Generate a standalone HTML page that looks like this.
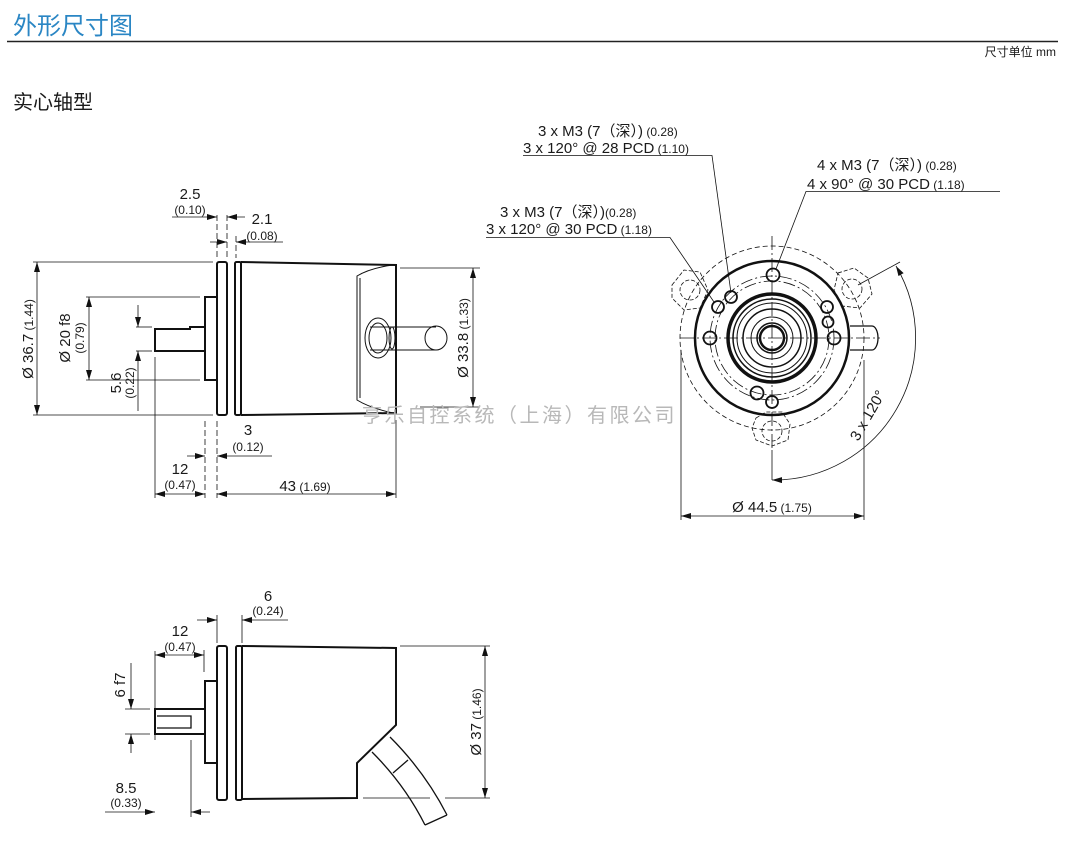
<!DOCTYPE html>
<html><head><meta charset="utf-8"><style>
body{margin:0;background:#fff;width:1068px;height:855px;overflow:hidden}
svg{display:block}
text{font-family:"Liberation Sans","Noto Sans CJK SC",sans-serif;fill:#1a1a1a}
.s{font-size:12px}.n{font-size:15px}
</style></head><body>
<svg width="1068" height="855" viewBox="0 0 1068 855" xmlns="http://www.w3.org/2000/svg">
<defs>
<marker id="a" viewBox="0 0 10 6" refX="10" refY="3" markerWidth="10" markerHeight="6" orient="auto-start-reverse" markerUnits="userSpaceOnUse"><path d="M0,0L10,3L0,6z" fill="#111"/></marker>
</defs>
<text x="13" y="34" style="font-size:24px;fill:#2a86c4">外形尺寸图</text>
<line x1="7" y1="41.5" x2="1058" y2="41.5" stroke="#222" stroke-width="1.5"/>
<text x="1056" y="56" text-anchor="end" style="font-size:12px">尺寸单位 mm</text>
<text x="13" y="109" style="font-size:20px">实心轴型</text>

<g stroke="#111" fill="none" stroke-width="1">
<!-- side view 1 -->
<rect x="217" y="262" width="10" height="153" rx="2" stroke-width="2"/>
<rect x="235" y="262" width="6" height="153" rx="1.5" stroke-width="2"/>
<path d="M241 262 L396 265 L396 413 L241 415" stroke-width="2"/>
<path d="M393 265 Q370 268 357 276 L357 400 Q370 408 393 413"/>
<path d="M360 278 L360 398"/>
<rect x="205" y="297" width="12" height="83" stroke-width="2"/>
<path d="M205 327 L190 327 L190 329 L155 329 L155 351 L205 351" stroke-width="2"/>
<ellipse cx="378" cy="338" rx="13" ry="20"/>
<ellipse cx="378" cy="338" rx="9" ry="15"/>
<path d="M370 327 L436 327 M370 350 L436 350"/>
<ellipse cx="392" cy="338" rx="3" ry="11"/>
<ellipse cx="436" cy="338" rx="11" ry="12"/>
<!-- dims side 1 -->
<line x1="33" y1="262" x2="213" y2="262" stroke-width=".8"/>
<line x1="33" y1="415" x2="213" y2="415" stroke-width=".8"/>
<line x1="37" y1="262" x2="37" y2="415" marker-start="url(#a)" marker-end="url(#a)" stroke-width=".8"/>
<line x1="86" y1="297" x2="200" y2="297" stroke-width=".8"/>
<line x1="86" y1="380" x2="200" y2="380" stroke-width=".8"/>
<line x1="89" y1="297" x2="89" y2="380" marker-start="url(#a)" marker-end="url(#a)" stroke-width=".8"/>
<line x1="136" y1="327" x2="152" y2="327" stroke-width=".8"/>
<line x1="136" y1="351" x2="152" y2="351" stroke-width=".8"/>
<line x1="138" y1="305" x2="138" y2="327" marker-end="url(#a)" stroke-width=".8"/>
<line x1="138" y1="411" x2="138" y2="351" marker-end="url(#a)" stroke-width=".8"/>
<path d="M217 215V258 M227 215V258 M236 236V258 M205 421V498 M217 421V498" stroke-dasharray="6 3" stroke-width=".8"/>
<line x1="155" y1="357" x2="155" y2="498" stroke-width=".8"/>
<line x1="396" y1="420" x2="396" y2="498" stroke-width=".8"/>
<line x1="172" y1="217" x2="217" y2="217" marker-end="url(#a)" stroke-width=".8"/>
<line x1="245" y1="217" x2="227" y2="217" marker-end="url(#a)" stroke-width=".8"/>
<line x1="210" y1="242" x2="227" y2="242" marker-end="url(#a)" stroke-width=".8"/>
<line x1="283" y1="242" x2="236" y2="242" marker-end="url(#a)" stroke-width=".8"/>
<line x1="187" y1="456" x2="205" y2="456" marker-end="url(#a)" stroke-width=".8"/>
<line x1="272" y1="456" x2="217" y2="456" marker-end="url(#a)" stroke-width=".8"/>
<line x1="155" y1="494" x2="205" y2="494" marker-start="url(#a)" marker-end="url(#a)" stroke-width=".8"/>
<line x1="217" y1="494" x2="396" y2="494" marker-start="url(#a)" marker-end="url(#a)" stroke-width=".8"/>
<line x1="400" y1="268" x2="480" y2="268" stroke-width=".8"/>
<line x1="420" y1="407" x2="480" y2="407" stroke-width=".8"/>
<line x1="473" y1="268" x2="473" y2="407" marker-start="url(#a)" marker-end="url(#a)" stroke-width=".8"/>

<!-- front view -->
<g stroke-width=".8">
<circle cx="772" cy="338" r="92" stroke-dasharray="5 3"/>
<path d="M772 236V450 M680 338H880" stroke-dasharray="14 3 2 3"/>
<circle cx="772" cy="338" r="62" stroke-dasharray="12 3 2 3"/>
<circle cx="772" cy="338" r="57" stroke-dasharray="12 3 2 3"/>
<path d="M672 285 L684 270 L700 272 L708 290 L700 308 L684 310 L672 298 Z" stroke-dasharray="4 2"/>
<circle cx="690" cy="290" r="10" stroke-dasharray="4 2"/>
<path d="M838 273 L854 268 L868 278 L872 294 L860 308 L842 306 L834 290 Z" stroke-dasharray="4 2"/>
<circle cx="852" cy="289" r="10" stroke-dasharray="4 2"/>
<path d="M756 418 L766 412 L782 412 L790 424 L788 440 L772 446 L756 440 L752 428 Z" stroke-dasharray="4 2"/>
<circle cx="772" cy="431" r="10" stroke-dasharray="4 2"/>
</g>
<circle cx="772" cy="338" r="77" stroke-width="2.5"/>
<circle cx="772" cy="338" r="44" stroke-width="3.5"/>
<circle cx="772" cy="338" r="39" stroke-width="1.5"/>
<circle cx="772" cy="338" r="35"/>
<circle cx="772" cy="338" r="29" stroke-width="1.5"/>
<circle cx="772" cy="338" r="21"/>
<circle cx="772" cy="338" r="15" stroke-width="1.5"/>
<circle cx="772" cy="338" r="12" stroke-width="2.5"/>
<g stroke-width="1.8">
<circle cx="773" cy="275" r="6.5"/><circle cx="710" cy="338" r="6.5"/>
<circle cx="834" cy="338" r="6.5"/><circle cx="827" cy="307" r="6"/><circle cx="828" cy="322" r="5.5"/>
<circle cx="718" cy="307" r="6"/><circle cx="731" cy="297" r="6"/>
<circle cx="757" cy="393" r="6.5"/><circle cx="772" cy="402" r="6"/>
</g>
<path d="M850 326 H872 A6 12 0 0 1 872 350 H850" stroke-width="1.3"/>
<path d="M681 350V520 M864 360V520 M772 450V480" stroke-width=".8"/>
<line x1="681" y1="516" x2="864" y2="516" marker-start="url(#a)" marker-end="url(#a)" stroke-width=".8"/>
<line x1="858" y1="285" x2="900" y2="262" stroke-width=".8"/>
<path d="M896 266 A142 142 0 0 1 772 480" stroke-width=".8" marker-start="url(#a)" marker-end="url(#a)"/>
<!-- leaders -->
<path d="M523 155.5H712L731 293" stroke-width=".8"/>
<path d="M1000 191.5H806L776 269" stroke-width=".8"/>
<path d="M486 237.5H670L714 302" stroke-width=".8"/>

<!-- side view 2 -->
<rect x="217" y="646" width="10" height="154" rx="2" stroke-width="2"/>
<rect x="236" y="646" width="6" height="154" rx="1.5" stroke-width="2"/>
<path d="M242 646 L396 648 L396 725 L357 763 L357 798 L242 799" stroke-width="2"/>
<rect x="205" y="681" width="12" height="82" stroke-width="2"/>
<path d="M205 709 H155 V734 H205" stroke-width="2"/>
<path d="M157 716 H191 V728 H157" stroke-width="1.3"/>
<path d="M372 752 Q405 785 425 825 M390 737 Q425 772 447 815 M425 825 L447 815 M393 773 L408 760" stroke-width="1.3"/>
<path d="M217 615V643 M242 615V643 M204 650V672 M155 651V740 M191 740V817" stroke-width=".8"/>
<line x1="197" y1="620" x2="217" y2="620" marker-end="url(#a)" stroke-width=".8"/>
<line x1="288" y1="620" x2="242" y2="620" marker-end="url(#a)" stroke-width=".8"/>
<line x1="155" y1="655" x2="204" y2="655" marker-start="url(#a)" marker-end="url(#a)" stroke-width=".8"/>
<path d="M125 709H150 M125 734H150" stroke-width=".8"/>
<line x1="131" y1="663" x2="131" y2="709" marker-end="url(#a)" stroke-width=".8"/>
<line x1="131" y1="753" x2="131" y2="734" marker-end="url(#a)" stroke-width=".8"/>
<line x1="105" y1="812" x2="155" y2="812" marker-end="url(#a)" stroke-width=".8"/>
<line x1="210" y1="812" x2="191" y2="812" marker-end="url(#a)" stroke-width=".8"/>
<path d="M400 646H490 M363 798H430 M445 798H490" stroke-width=".8"/>
<line x1="485" y1="646" x2="485" y2="798" marker-start="url(#a)" marker-end="url(#a)" stroke-width=".8"/>
</g>

<!-- labels side 1 -->
<text x="190" y="199" class="n" text-anchor="middle">2.5</text>
<text x="190" y="214" class="s" text-anchor="middle">(0.10)</text>
<text x="262" y="224" class="n" text-anchor="middle">2.1</text>
<text x="262" y="240" class="s" text-anchor="middle">(0.08)</text>
<text x="248" y="435" class="n" text-anchor="middle">3</text>
<text x="248" y="451" class="s" text-anchor="middle">(0.12)</text>
<text x="180" y="474" class="n" text-anchor="middle">12</text>
<text x="180" y="489" class="s" text-anchor="middle">(0.47)</text>
<text x="305" y="491" text-anchor="middle"><tspan class="n">43</tspan><tspan class="s"> (1.69)</tspan></text>
<text transform="translate(33,339) rotate(-90)" text-anchor="middle"><tspan class="n">Ø 36.7</tspan><tspan class="s"> (1.44)</tspan></text>
<text transform="translate(70,338) rotate(-90)" class="n" text-anchor="middle">Ø 20 f8</text>
<text transform="translate(84,338) rotate(-90)" class="s" text-anchor="middle">(0.79)</text>
<text transform="translate(121,383) rotate(-90)" class="n" text-anchor="middle">5.6</text>
<text transform="translate(134,383) rotate(-90)" class="s" text-anchor="middle">(0.22)</text>
<text transform="translate(468,338) rotate(-90)" text-anchor="middle"><tspan class="n">Ø 33.8</tspan><tspan class="s"> (1.33)</tspan></text>
<text x="362" y="422" style="font-size:20px;letter-spacing:2.5px;fill:#b8b8b8">亨乐自控系统（上海）有限公司</text>

<!-- labels front -->
<text x="538" y="136"><tspan class="n">3 x M3 (7（深）)</tspan><tspan class="s"> (0.28)</tspan></text>
<text x="523" y="153"><tspan class="n">3 x 120° @ 28 PCD</tspan><tspan class="s"> (1.10)</tspan></text>
<text x="817" y="170"><tspan class="n">4 x M3 (7（深）)</tspan><tspan class="s"> (0.28)</tspan></text>
<text x="807" y="189"><tspan class="n">4 x 90° @ 30 PCD</tspan><tspan class="s"> (1.18)</tspan></text>
<text x="500" y="217"><tspan class="n">3 x M3 (7（深）)</tspan><tspan class="s">(0.28)</tspan></text>
<text x="486" y="234"><tspan class="n">3 x 120° @ 30 PCD</tspan><tspan class="s"> (1.18)</tspan></text>
<text x="772" y="512" text-anchor="middle"><tspan class="n">Ø 44.5</tspan><tspan class="s"> (1.75)</tspan></text>
<text transform="translate(872,418) rotate(-60)" class="n" text-anchor="middle">3 x 120°</text>

<!-- labels side 2 -->
<text x="268" y="601" class="n" text-anchor="middle">6</text>
<text x="268" y="615" class="s" text-anchor="middle">(0.24)</text>
<text x="180" y="636" class="n" text-anchor="middle">12</text>
<text x="180" y="651" class="s" text-anchor="middle">(0.47)</text>
<text transform="translate(125,685) rotate(-90)" class="n" text-anchor="middle">6 f7</text>
<text x="126" y="793" class="n" text-anchor="middle">8.5</text>
<text x="126" y="807" class="s" text-anchor="middle">(0.33)</text>
<text transform="translate(481,722) rotate(-90)" text-anchor="middle"><tspan class="n">Ø 37</tspan><tspan class="s"> (1.46)</tspan></text>
</svg>
</body></html>
